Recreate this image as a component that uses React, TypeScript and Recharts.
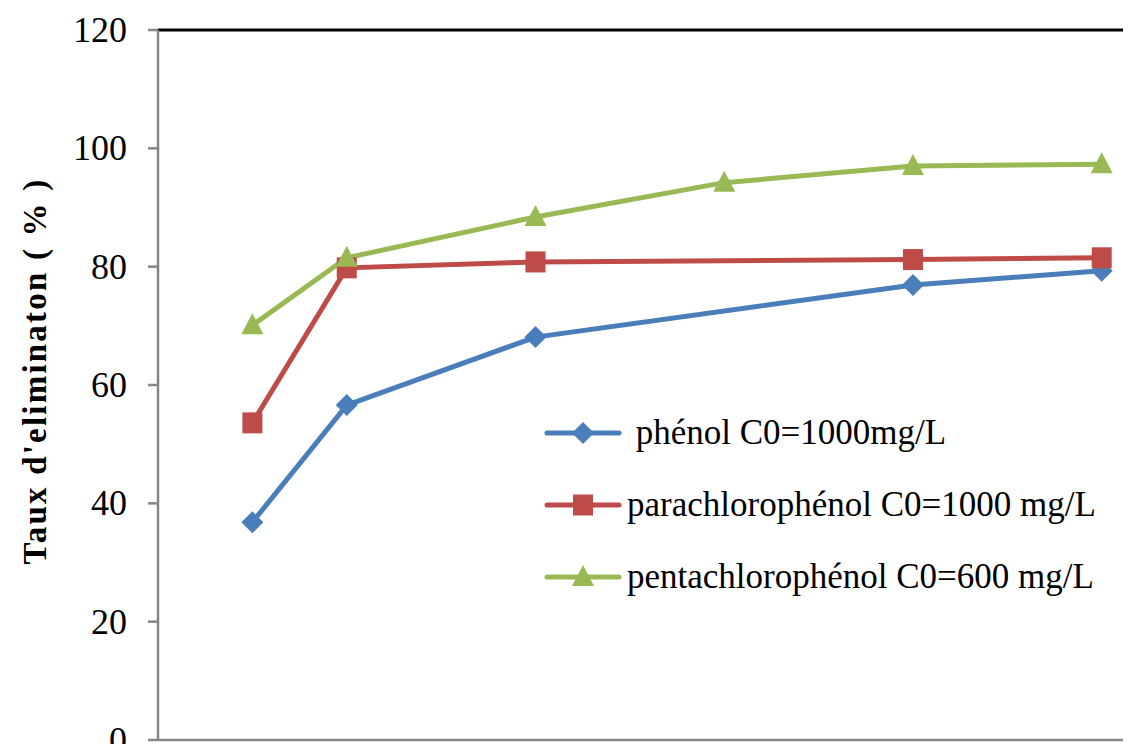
import React from "react";
import { LineChart, Line, XAxis, YAxis, ReferenceLine, Legend } from "recharts";

// sampling times and removal rates (%)
const times = [3, 6, 12, 18, 24, 30];
const phenol = [36.8, 56.6, 68.1, null, 76.9, 79.3];
const parachloro = [53.6, 79.8, 80.8, null, 81.2, 81.5];
const pentachloro = [70.1, 81.5, 88.4, 94.2, 97.0, 97.3];

const yTicks = [0, 20, 40, 60, 80, 100, 120];
const xTicks = [0, 5, 10, 15, 20, 25, 30, 35];

const FONT = "'Times New Roman', serif";

const toSeries = (values: (number | null)[]) =>
  times
    .map((t, i) => ({ t, v: values[i] }))
    .filter((d) => d.v != null);

const series = [
  { name: " phénol C0=1000mg/L", color: "#4A7EBB", shape: "diamond", data: toSeries(phenol) },
  { name: "parachlorophénol C0=1000 mg/L", color: "#BE4B48", shape: "square", data: toSeries(parachloro) },
  { name: "pentachlorophénol C0=600 mg/L", color: "#98B954", shape: "triangle", data: toSeries(pentachloro) },
];

function Marker({ cx, cy, shape, color }: any) {
  if (cx == null || cy == null) return <g />;
  if (shape === "diamond")
    return (
      <polygon
        points={`${cx},${cy - 11} ${cx + 11},${cy} ${cx},${cy + 11} ${cx - 11},${cy}`}
        fill={color}
      />
    );
  if (shape === "square")
    return <rect x={cx - 10} y={cy - 10.5} width={20} height={21} fill={color} />;
  return (
    <polygon
      points={`${cx},${cy - 12} ${cx + 11},${cy + 9} ${cx - 11},${cy + 9}`}
      fill={color}
    />
  );
}

function LegendBox() {
  return (
    <div style={{ fontFamily: FONT }}>
      {series.map((s) => (
        <div key={s.name} style={{ display: "flex", alignItems: "center", height: 72 }}>
          <svg width={78} height={26}>
            <line x1={3} y1={13} x2={75} y2={13} stroke={s.color} strokeWidth={5} strokeLinecap="round" />
            <Marker cx={39} cy={13} shape={s.shape} color={s.color} />
          </svg>
          <span style={{ fontSize: 35, color: "#000", whiteSpace: "pre", marginLeft: 5 }}>{s.name}</span>
        </div>
      ))}
    </div>
  );
}

function YTick({ x, y, payload }: any) {
  return (
    <text x={x} y={y} dy={12} textAnchor="end" fill="#000" style={{ fontFamily: FONT, fontSize: 36 }}>
      {payload.value}
    </text>
  );
}

const yTitle = () => (
  <text
    x={35}
    y={371}
    transform="rotate(-90, 35, 371)"
    textAnchor="middle"
    dominantBaseline="central"
    fill="#000"
    style={{ fontFamily: FONT, fontWeight: "bold", fontSize: 33, letterSpacing: 2.2 }}
  >
    Taux d'eliminaton ( % )
  </text>
);

export default function App() {
  return (
    <div style={{ width: 1131, height: 752, overflow: "hidden", margin: -8, background: "#fff", fontFamily: FONT }}>
      <LineChart width={1259} height={770} margin={{ top: 30, right: 0, left: 0, bottom: 0 }}>
        <XAxis
          dataKey="t"
          type="number"
          domain={[0, 35]}
          ticks={xTicks}
          tick={false}
          tickSize={12}
          height={30}
          stroke="#868686"
          strokeWidth={2.5}
          allowDuplicatedCategory={false}
        />
        <YAxis
          type="number"
          domain={[0, 120]}
          ticks={yTicks}
          width={158}
          tickSize={10}
          tickMargin={21}
          stroke="#868686"
          strokeWidth={2.5}
          tick={<YTick />}
          label={yTitle}
        />
        <ReferenceLine y={120} stroke="#000" strokeWidth={3} />
        {series.map((s) => (
          <Line
            key={s.name}
            data={s.data}
            dataKey="v"
            name={s.name}
            type="linear"
            stroke={s.color}
            strokeWidth={5}
            dot={(p: any) => <Marker key={`${s.shape}-${p.index}`} cx={p.cx} cy={p.cy} shape={s.shape} color={s.color} />}
            activeDot={false}
            isAnimationActive={false}
          />
        ))}
        <Legend
          layout="horizontal"
          verticalAlign="middle"
          align="center"
          content={<LegendBox />}
          wrapperStyle={{ position: "absolute", left: 544, top: 397, width: 600 }}
        />
      </LineChart>
    </div>
  );
}
